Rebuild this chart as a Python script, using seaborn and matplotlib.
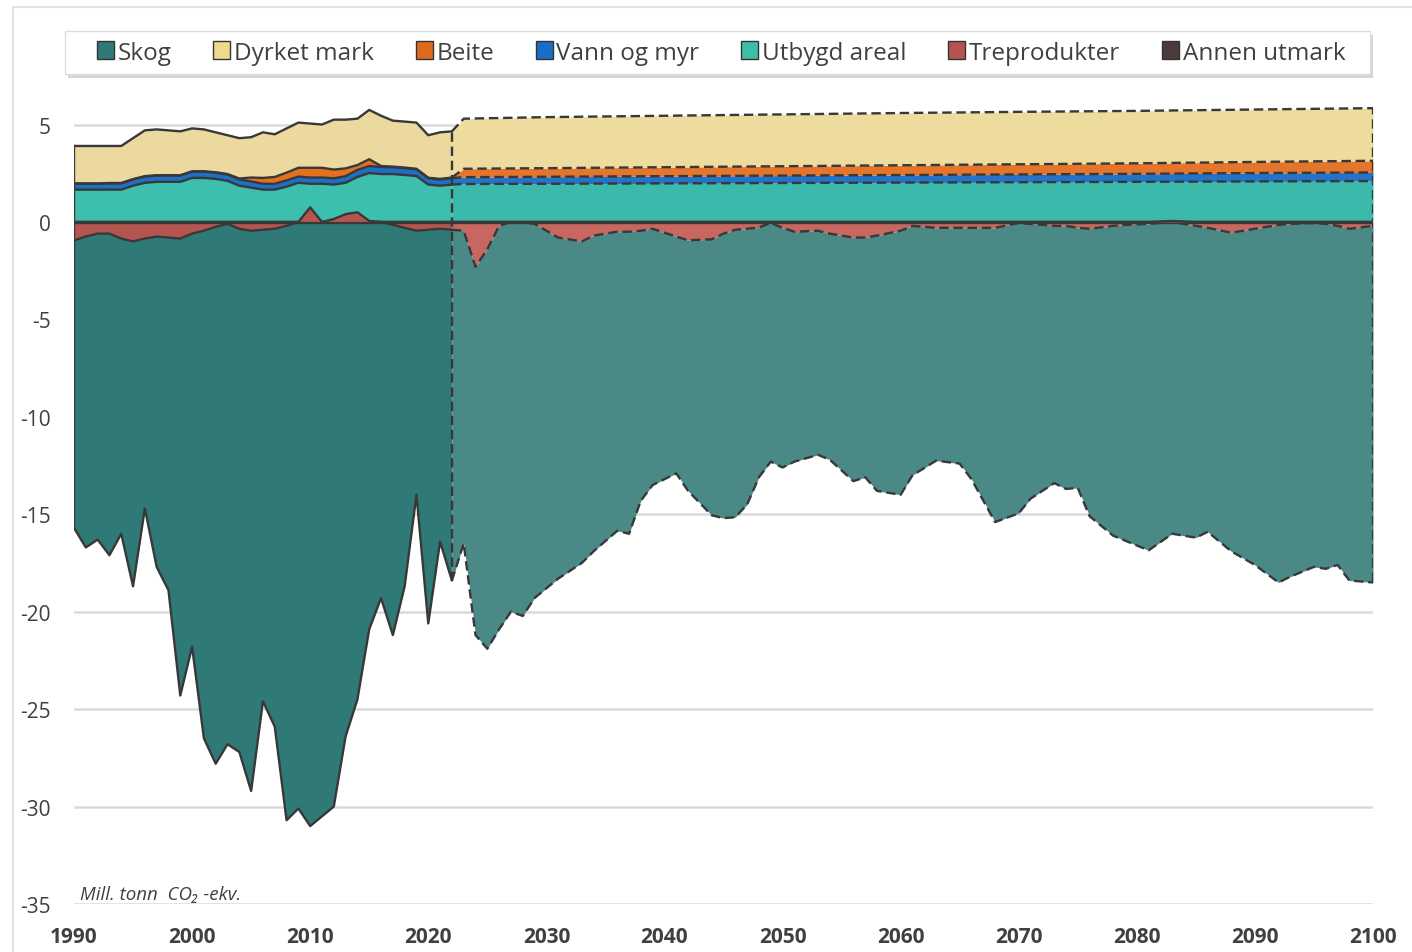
import matplotlib
matplotlib.use("Agg")
import matplotlib.pyplot as plt
import matplotlib.patches as mpatches
from matplotlib.lines import Line2D
import numpy as np
import pandas as pd
import seaborn as sns

# ---------------- data ----------------
categories = ["Skog", "Dyrket mark", "Beite", "Vann og myr", "Utbygd areal",
              "Treprodukter", "Annen utmark"]

hist_years = list(range(1990, 2023))
skog_hist = [-14.75, -15.95, -15.7, -16.5, -15.15, -17.7, -13.85, -16.95, -18.1, -23.45,
             -21.2, -26.05, -27.55, -26.7, -26.85, -28.75, -24.2, -25.55, -30.5, -30.1,
             -31.0, -30.5, -30.0, -26.4, -24.5, -20.9, -19.3, -21.05, -18.4, -13.55,
             -20.2, -16.05, -18.0]
trepr_hist = [-0.95, -0.75, -0.6, -0.6, -0.85, -1.0, -0.85, -0.75, -0.8, -0.85,
              -0.6, -0.45, -0.25, -0.1, -0.35, -0.45, -0.4, -0.35, -0.2, 0.0,
              0.75, 0.0, 0.15, 0.4, 0.5, 0.05, 0.0, -0.15, -0.3, -0.45,
              -0.4, -0.35, -0.4]
annen_hist = [0.06, 0.06, 0.06, 0.06, 0.06, 0.06, 0.06, 0.06, 0.06, 0.06,
              0.06, 0.06, 0.06, 0.06, 0.06, 0.06, 0.06, 0.06, 0.06, 0.06,
              0.06, 0.06, 0.06, 0.06, 0.06, 0.06, 0.06, 0.06, 0.06, 0.06,
              0.06, 0.06, 0.06]
utbygd_hist = [1.6, 1.6, 1.6, 1.6, 1.6, 1.8, 1.95, 2.0, 2.0, 2.0,
               2.2, 2.2, 2.15, 2.05, 1.8, 1.7, 1.6, 1.6, 1.75, 1.95,
               1.9, 1.9, 1.86, 1.95, 2.25, 2.45, 2.4, 2.4, 2.35, 2.3,
               1.86, 1.8, 1.86]
vann_hist = [0.3, 0.3, 0.3, 0.32, 0.32, 0.32, 0.32, 0.32, 0.32, 0.32,
             0.32, 0.32, 0.32, 0.32, 0.32, 0.32, 0.3, 0.3, 0.32, 0.32,
             0.32, 0.32, 0.32, 0.34, 0.36, 0.36, 0.36, 0.35, 0.35, 0.34,
             0.32, 0.32, 0.33]
beite_hist = [0.02, 0.02, 0.02, 0.02, 0.02, 0.02, 0.02, 0.02, 0.02, 0.02,
              0.02, 0.02, 0.02, 0.03, 0.05, 0.2, 0.3, 0.35, 0.4, 0.45,
              0.5, 0.5, 0.45, 0.4, 0.25, 0.35, 0.05, 0.03, 0.03, 0.03,
              0.03, 0.03, 0.03]
dyrket_hist = [1.92, 1.92, 1.92, 1.9, 1.9, 2.1, 2.35, 2.35, 2.3, 2.25,
               2.2, 2.15, 2.05, 1.99, 2.07, 2.07, 2.34, 2.19, 2.27, 2.32,
               2.27, 2.22, 2.56, 2.5, 2.38, 2.53, 2.58, 2.36, 2.36, 2.37,
               2.18, 2.39, 2.37]

proj_pos_years = [2022, 2023, 2030, 2040, 2050, 2060, 2070, 2080, 2090, 2100]
annen_proj = [0.06, 0.06, 0.06, 0.06, 0.06, 0.06, 0.06, 0.06, 0.06, 0.06]
utbygd_proj = [1.86, 1.89, 1.9, 1.92, 1.94, 1.96, 1.98, 2.0, 2.02, 2.04]
vann_proj = [0.33, 0.35, 0.36, 0.37, 0.38, 0.39, 0.4, 0.41, 0.43, 0.44]
beite_proj = [0.03, 0.43, 0.44, 0.46, 0.48, 0.5, 0.52, 0.54, 0.57, 0.6]
dyrket_proj = [2.37, 2.57, 2.62, 2.64, 2.66, 2.68, 2.69, 2.69, 2.69, 2.7]

proj_neg_years = [2022, 2023, 2024, 2025, 2026, 2027, 2028, 2029, 2031, 2033,
                  2034, 2036, 2037, 2038, 2039, 2041, 2042, 2044, 2045, 2046,
                  2047, 2048, 2049, 2050, 2051, 2053, 2054, 2056, 2057, 2058,
                  2060, 2061, 2063, 2065, 2066, 2068, 2070, 2071, 2073, 2074,
                  2075, 2076, 2078, 2079, 2081, 2083, 2085, 2086, 2088, 2090,
                  2092, 2093, 2095, 2096, 2097, 2098, 2100]
skog_proj = [-18.0, -16.05, -18.9, -20.5, -20.7, -20.0, -20.2, -19.2, -17.5, -16.5,
             -16.2, -15.35, -15.5, -13.85, -13.15, -12.15, -12.86, -14.16, -14.6, -14.75,
             -14.15, -12.82, -12.25, -12.3, -11.8, -11.5, -11.6, -12.5, -12.3, -13.1,
             -13.55, -12.8, -11.95, -12.1, -12.9, -15.1, -14.9, -14.1, -13.2, -13.5,
             -13.35, -14.75, -15.9, -16.2, -16.75, -16.0, -16.0, -15.6, -16.35, -17.25,
             -18.35, -18.1, -17.65, -17.7, -17.4, -18.05, -18.3]
trepr_proj = [-0.4, -0.45, -2.3, -1.4, -0.2, 0.0, -0.02, -0.1, -0.8, -1.0,
              -0.7, -0.5, -0.5, -0.45, -0.35, -0.75, -0.94, -0.89, -0.6, -0.4,
              -0.35, -0.28, -0.05, -0.3, -0.5, -0.45, -0.6, -0.8, -0.8, -0.7,
              -0.45, -0.2, -0.3, -0.3, -0.3, -0.3, -0.05, -0.1, -0.2, -0.2,
              -0.3, -0.35, -0.2, -0.15, -0.1, 0.05, -0.2, -0.3, -0.55, -0.35,
              -0.15, -0.1, -0.05, -0.1, -0.2, -0.35, -0.2]

y_ticks = [5, 0, -5, -10, -15, -20, -25, -30, -35]
x_ticks = [1990, 2000, 2010, 2020, 2030, 2040, 2050, 2060, 2070, 2080, 2090, 2100]
unit_label = "Mill. tonn  CO\u2082 -ekv."

# ---------------- style ----------------
hist_col = {"Skog": "#2f7a77", "Dyrket mark": "#ecd9a0", "Beite": "#e2701f",
            "Vann og myr": "#1e6fc6", "Utbygd areal": "#3dbfad",
            "Treprodukter": "#b5554f", "Annen utmark": "#4a3737"}
proj_col = {"Skog": "#4b8986", "Dyrket mark": "#eedc9f", "Beite": "#e5752a",
            "Vann og myr": "#2573c6", "Utbygd areal": "#3bb9ab",
            "Treprodukter": "#c7675f", "Annen utmark": "#4a3737"}
legend_col = {"Skog": "#2f7a77", "Dyrket mark": "#f0d98f", "Beite": "#e06a1c",
              "Vann og myr": "#1a6ec8", "Utbygd areal": "#3cbfa5",
              "Treprodukter": "#b5544f", "Annen utmark": "#4d3a3a"}
EDGE = "#383838"
TXT = "#404040"

sns.set_theme(style="white")
plt.rcParams["font.family"] = ["Open Sans", "DejaVu Sans"]
plt.rcParams["axes.unicode_minus"] = False

W, H = 1412, 953
fig = plt.figure(figsize=(W / 100, H / 100), dpi=100)
ax = fig.add_axes([74 / W, 1 - 905 / H, (1373 - 74) / W, (905 - 96.3) / H])


def stack(layers):
    cum = np.zeros(len(layers[0]))
    out = []
    for v in layers:
        lo = cum.copy()
        cum = cum + np.asarray(v, dtype=float)
        out.append((lo, cum.copy()))
    return out


pos_names = ["Annen utmark", "Utbygd areal", "Vann og myr", "Beite", "Dyrket mark"]
neg_names = ["Treprodukter", "Skog"]
hist_pos = stack([annen_hist, utbygd_hist, vann_hist, beite_hist, dyrket_hist])
proj_pos = stack([annen_proj, utbygd_proj, vann_proj, beite_proj, dyrket_proj])
hist_neg = stack([np.minimum(trepr_hist, 0), skog_hist])
proj_neg = stack([np.minimum(trepr_proj, 0), skog_proj])

hx = np.array(hist_years, dtype=float)
ppx = np.array(proj_pos_years, dtype=float)
pnx = np.array(proj_neg_years, dtype=float)

# fills
for name, (lo, hi) in zip(pos_names, hist_pos):
    ax.fill_between(hx, lo, hi, color=hist_col[name], lw=0, zorder=2)
for name, (lo, hi) in zip(neg_names, hist_neg):
    ax.fill_between(hx, lo, hi, color=hist_col[name], lw=0, zorder=2)
for name, (lo, hi) in zip(pos_names, proj_pos):
    ax.fill_between(ppx, lo, hi, color=proj_col[name], lw=0, zorder=2)
for name, (lo, hi) in zip(neg_names, proj_neg):
    ax.fill_between(pnx, lo, hi, color=proj_col[name], lw=0, zorder=2)

LW = 1.7
DASH = (0, (4, 2))

# outlines - historical (solid)
for (lo, hi) in hist_pos[1:] + hist_neg:
    sns.lineplot(x=hx, y=hi, ax=ax, color=EDGE, lw=LW, estimator=None, zorder=4)
ax.plot([hx[0], hx[0]], [hist_neg[-1][1][0], hist_pos[-1][1][0]], color=EDGE, lw=LW, zorder=4)

# outlines - projection (dashed)
for (lo, hi) in proj_pos[1:]:
    sns.lineplot(x=ppx, y=hi, ax=ax, color=EDGE, lw=LW, linestyle=DASH,
                 estimator=None, zorder=4)
for (lo, hi) in proj_neg:
    sns.lineplot(x=pnx, y=hi, ax=ax, color=EDGE, lw=LW, linestyle=DASH,
                 estimator=None, zorder=4)
for px, idx in [(pnx[0], 0), (pnx[-1], -1)]:
    ax.plot([px, px], [proj_neg[-1][1][idx], proj_pos[-1][1][idx]], color=EDGE, lw=LW,
            linestyle=DASH, zorder=4)

# zero line
ax.axhline(0, color=EDGE, lw=2.4, zorder=5)

# positive Treprodukter parts (drawn over)
tp = np.maximum(np.asarray(trepr_hist, dtype=float), 0)
ax.fill_between(hx, 0, tp, where=tp > 0, interpolate=True,
                color=hist_col["Treprodukter"], lw=0, zorder=6)
tpp = np.maximum(np.asarray(trepr_proj, dtype=float), 0)
ax.fill_between(pnx, 0, tpp, where=tpp > 0, interpolate=True,
                color=proj_col["Treprodukter"], lw=0, zorder=6)
ax.plot(hx, tp, color=EDGE, lw=LW, zorder=7)
ax.plot(pnx, tpp, color=EDGE, lw=LW, zorder=7)

# axes
ax.set_xlim(1990, 2100)
ax.set_ylim(-35, 6.5)
ax.set_yticks(y_ticks)
ax.set_yticklabels([str(v) for v in y_ticks])
ax.set_xticks(x_ticks)
ax.set_xticklabels([str(v) for v in x_ticks])
ax.yaxis.grid(True, color="#dadada", lw=1.8)
ax.xaxis.grid(False)
ax.set_axisbelow(True)
for s in ax.spines.values():
    s.set_visible(False)
ax.tick_params(axis="y", length=0, pad=17, labelsize=15, labelcolor=TXT)
ax.tick_params(axis="x", length=0, pad=16, labelsize=15, labelcolor=TXT)
for lab in ax.get_xticklabels():
    lab.set_fontweight("bold")
ax.set_xlabel("")
ax.set_ylabel("")

ax.text(1990.55, -34.72, unit_label, style="italic", fontsize=13.5, color=TXT,
        va="baseline", ha="left", zorder=8)

# legend frame with soft shadow
fig.add_artist(mpatches.Rectangle((68 / W, 1 - 79 / H), 1305 / W, 43 / H,
                                  transform=fig.transFigure, facecolor="#d6d6d6",
                                  edgecolor="none", zorder=1))
fig.add_artist(mpatches.Rectangle((65 / W, 1 - 75 / H), 1305 / W, 43 / H,
                                  transform=fig.transFigure, facecolor="white",
                                  edgecolor="#dddddd", lw=1.0, zorder=2))

handles = [mpatches.Patch(facecolor=legend_col[c], edgecolor="#333333", lw=1.0)
           for c in categories]
leg = fig.legend(handles, categories, loc="center", bbox_to_anchor=(721 / W, 1 - 53.5 / H),
                 ncol=7, fontsize=17.5, frameon=False,
                 handlelength=0.7, handleheight=0.7, handletextpad=0.15,
                 columnspacing=1.72, borderpad=0.0, borderaxespad=0)
leg.set_zorder(3)
for t in leg.get_texts():
    t.set_color(TXT)

# outer frame lines
fig.add_artist(Line2D([13 / W, 13 / W], [0, 1 - 8 / H], transform=fig.transFigure,
                      color="#e2e2e2", lw=1.5))
fig.add_artist(Line2D([13 / W, 1], [1 - 8 / H, 1 - 8 / H], transform=fig.transFigure,
                      color="#e2e2e2", lw=1.5))

fig.savefig("out.png", dpi=100)
